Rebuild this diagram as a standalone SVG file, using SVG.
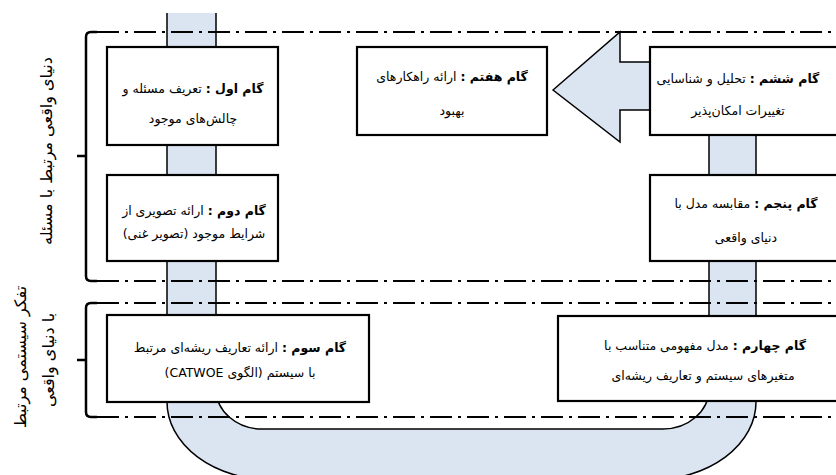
<svg xmlns="http://www.w3.org/2000/svg" width="836" height="475" viewBox="0 0 836 475">
<style>
.band{fill:#dbe5f1;stroke:#000;stroke-width:1.5}
.dd{fill:none;stroke:#000;stroke-width:2;stroke-dasharray:22 6 3 6}
.br{fill:none;stroke:#000;stroke-width:2.5}
.box{fill:#fff;stroke:#000;stroke-width:2.2}
.t{font-family:"DejaVu Sans",sans-serif;font-size:12.5px;direction:rtl;text-anchor:middle;fill:#000}
.b{font-weight:bold}
.lab{font-family:"DejaVu Sans",sans-serif;font-size:16px;direction:rtl;text-anchor:middle;fill:#000}
</style>
<rect width="836" height="475" fill="#fff"/>
<g id="connectors">
<path class="band" d="M167,13 V402 A105,78 0 0 0 272,480 H651 A105,78 0 0 0 756,402 V135 H709 V389 A46,40 0 0 1 663,429 H262 A46,40 0 0 1 216,389 V13"/>
<path class="band" d="M553,90 L620,32 L620,62 L650,62 L650,110 L620,110 L620,142 Z"/>
</g>
<g id="frames">
<path class="dd" d="M97,32 H836"/>
<path class="dd" d="M97,281 H836"/>
<path class="dd" d="M97,303 H836"/>
<path class="dd" d="M97,417 H836"/>
<path class="br" d="M97,32 H91 Q86,32 86,37 V276 Q86,281 91,281 H97 M77,156 H86"/>
<path class="br" d="M97,303 H91 Q86,303 86,308 V412 Q86,417 91,417 H97 M77,360 H86"/>
<text class="lab" transform="translate(46,151) rotate(-90)" x="0" y="6">دنیای واقعی مرتبط با مسئله</text>
<text class="lab" transform="translate(20,357) rotate(-90)" x="0" y="6">تفکر سیستمی مرتبط</text>
<text class="lab" transform="translate(48,360) rotate(-90)" x="0" y="6">با دنیای واقعی</text>
</g>
<g id="step1">
<rect class="box" x="107" y="47" width="171" height="98"/>
<text class="t" x="193" y="93"><tspan class="b">گام اول :</tspan> تعریف مسئله و</text>
<text class="t" x="193" y="123">چالش‌های موجود</text>
</g>
<g id="step2">
<rect class="box" x="107" y="175" width="171" height="86"/>
<text class="t" x="194" y="215"><tspan class="b">گام دوم :</tspan> ارائه تصویری از</text>
<text class="t" x="194" y="238">شرایط موجود (تصویر غنی)</text>
</g>
<g id="step3">
<rect class="box" x="107" y="315" width="262" height="87"/>
<text class="t" x="240" y="352"><tspan class="b">گام سوم :</tspan> ارائه تعاریف ریشه‌ای مرتبط</text>
<text class="t" x="240" y="377">با سیستم (الگوی CATWOE)</text>
</g>
<g id="step4">
<rect class="box" x="558" y="316" width="300" height="85"/>
<text class="t" x="705" y="350"><tspan class="b">گام چهارم :</tspan> مدل مفهومی متناسب با</text>
<text class="t" x="703" y="380">متغیرهای سیستم و تعاریف ریشه‌ای</text>
</g>
<g id="step5">
<rect class="box" x="650" y="175" width="200" height="86"/>
<text class="t" x="746" y="208"><tspan class="b">گام پنجم :</tspan> مقابسه مدل با</text>
<text class="t" x="746" y="242">دنیای واقعی</text>
</g>
<g id="step6">
<rect class="box" x="650" y="47" width="200" height="88"/>
<text class="t" x="738" y="83"><tspan class="b">گام ششم :</tspan> تحلیل و شناسایی</text>
<text class="t" x="738" y="115">تغییرات امکان‌پذیر</text>
</g>
<g id="step7">
<rect class="box" x="357" y="47" width="190" height="88"/>
<text class="t" x="452" y="81"><tspan class="b">گام هفتم :</tspan> ارائه راهکارهای</text>
<text class="t" x="452" y="115">بهبود</text>
</g>
</svg>
